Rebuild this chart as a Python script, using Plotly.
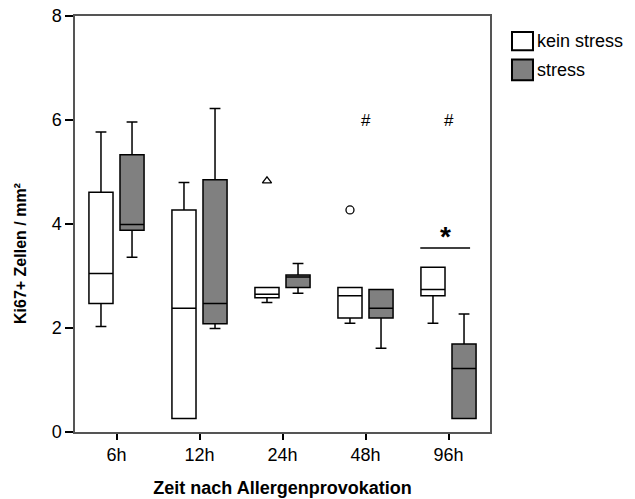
import plotly.graph_objects as go

categories = ["6h", "12h", "24h", "48h", "96h"]
group_names = ["kein stress", "stress"]

kein_low = [2.03, 0.26, 2.49, 2.09, 2.09]
kein_q1 = [2.47, 0.26, 2.58, 2.19, 2.62]
kein_med = [3.05, 2.38, 2.65, 2.62, 2.74]
kein_q3 = [4.61, 4.27, 2.78, 2.78, 3.17]
kein_high = [5.77, 4.80, 2.78, 2.78, 3.17]

stress_low = [3.36, 1.99, 2.67, 1.61, 0.26]
stress_q1 = [3.88, 2.08, 2.78, 2.19, 0.26]
stress_med = [3.99, 2.47, 2.98, 2.38, 1.22]
stress_q3 = [5.33, 4.85, 3.02, 2.74, 1.69]
stress_high = [5.96, 6.22, 3.24, 2.74, 2.27]

# outliers (kein stress): category index, value, symbol
outlier_cat = [2, 3]
outlier_val = [4.83, 4.27]
outlier_sym = ["triangle-up-open", "circle-open"]

# significance markers
hash_cat = [3, 4]
hash_val = [6.0, 6.0]
star_cat = 3.96
star_val = 3.83
bar_cat = [3.66, 4.26]
bar_val = 3.54

y_ticks = [0, 2, 4, 6, 8]

OFF = 0.187
BW = 0.29
FONT = "Liberation Sans, Arial, sans-serif"

pos = list(range(len(categories)))
fig = go.Figure()

fig.add_trace(go.Box(
    x=[p - OFF for p in pos], q1=kein_q1, median=kein_med, q3=kein_q3,
    lowerfence=kein_low, upperfence=kein_high, width=BW, whiskerwidth=0.45,
    fillcolor="white", line=dict(color="black", width=1.5), name=group_names[0],
    boxpoints=False, showlegend=False, hoverinfo="skip"))
fig.add_trace(go.Box(
    x=[p + OFF for p in pos], q1=stress_q1, median=stress_med, q3=stress_q3,
    lowerfence=stress_low, upperfence=stress_high, width=BW, whiskerwidth=0.45,
    fillcolor="#808080", line=dict(color="black", width=1.5), name=group_names[1],
    boxpoints=False, showlegend=False, hoverinfo="skip"))

fig.add_trace(go.Scatter(
    x=[c - OFF for c in outlier_cat], y=outlier_val, mode="markers",
    marker=dict(symbol=outlier_sym, size=8, color="black", line=dict(width=1.3, color="black")),
    showlegend=False, hoverinfo="skip"))

for c, v in zip(hash_cat, hash_val):
    fig.add_annotation(x=c, y=v, text="#", showarrow=False,
                       font=dict(family=FONT, size=17, color="black"))
fig.add_annotation(x=star_cat, y=star_val, text="<b>*</b>", showarrow=False,
                   font=dict(family=FONT, size=28, color="black"), yshift=-4)
fig.add_shape(type="line", x0=bar_cat[0], x1=bar_cat[1], y0=bar_val, y1=bar_val,
              line=dict(color="black", width=1.5))

# y-axis title (placed like the original, slightly below plot centre)
fig.add_annotation(xref="paper", yref="paper", x=-0.13, y=0.428,
                   text="<b>Ki67+ Zellen / mm²</b>", textangle=-90, showarrow=False,
                   xanchor="center", yanchor="middle",
                   font=dict(family=FONT, size=16, color="black"))

# legend
leg_fill = ["white", "#808080"]
leg_y = [(0.9616, 0.9176), (0.8953, 0.8455)]
for name, fc, (ya, yb) in zip(group_names, leg_fill, leg_y):
    fig.add_shape(type="rect", xref="paper", yref="paper", x0=1.053, x1=1.1036,
                  y0=yb, y1=ya, fillcolor=fc, line=dict(color="black", width=2))
    fig.add_annotation(xref="paper", yref="paper", x=1.108, y=(ya + yb) / 2,
                       text=name, showarrow=False, xanchor="left", yanchor="middle",
                       font=dict(family=FONT, size=18, color="black"))

fig.update_layout(
    width=635, height=499,
    margin=dict(l=75, r=145, t=16, b=67, autoexpand=False),
    paper_bgcolor="white", plot_bgcolor="white",
    boxmode="overlay",
    font=dict(family=FONT, color="black"),
    xaxis=dict(range=[-0.5, 4.5], tickvals=pos, ticktext=categories,
               showgrid=False, zeroline=False, showline=True, mirror=True,
               linecolor="#555", linewidth=1.5, ticks="outside", ticklen=6,
               tickwidth=2, tickcolor="black", tickfont=dict(size=18),
               automargin=False,
               title=dict(text="<b>Zeit nach Allergenprovokation</b>",
                          font=dict(size=18), standoff=17)),
    yaxis=dict(range=[0, 8], tickvals=y_ticks, showgrid=False, zeroline=False,
               showline=True, mirror=True, linecolor="#555", linewidth=1.5,
               ticks="outside", ticklen=8, tickwidth=2, tickcolor="black",
               tickfont=dict(size=18), ticklabelstandoff=0, automargin=False),
)

fig.write_html("out.html", config={"displayModeBar": False},
               post_script="document.body.style.margin='0';")
